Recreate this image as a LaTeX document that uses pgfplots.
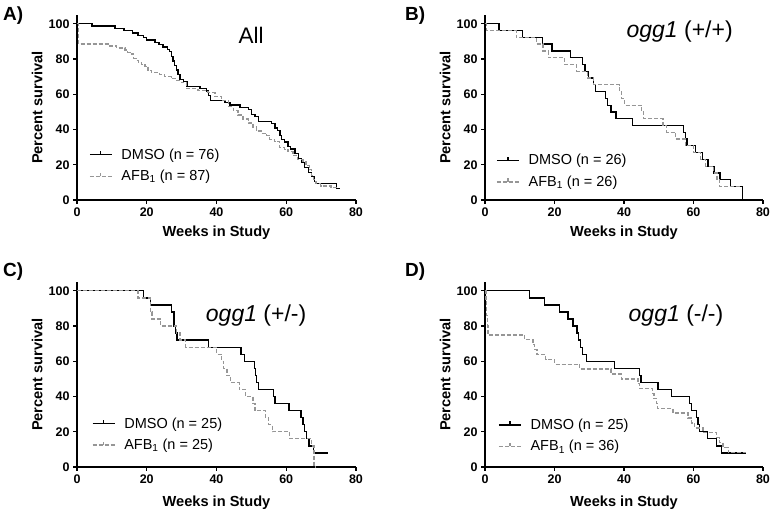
\documentclass[border=0pt]{standalone}
\usepackage{fontspec}
\setmainfont{Liberation Sans}
\usepackage{pgfplots}
\pgfplotsset{compat=1.18}
\definecolor{afbgray}{RGB}{150,150,150}
\pgfplotsset{
 km/.style={
  scale only axis, width=279pt, height=185pt,
  xmin=0, xmax=80, ymin=0, ymax=105,
  axis lines*=left,
  axis line style={line width=1.2pt},
  xtick={0,20,40,60,80}, ytick={0,20,40,60,80,100},
  tick align=outside, major tick length=4pt,
  tick style={line width=1.2pt, black},
  /pgf/number format/assume math mode=true,
  ticklabel style={font=\fontsize{12.5}{14}\selectfont\bfseries},
  xlabel={Weeks in Study}, ylabel={Percent survival},
  label style={font=\fontsize{14.6}{16}\selectfont\bfseries},
  xlabel style={at={(axis description cs:0.5,-0.178)}, anchor=center},
  ylabel style={at={(axis description cs:-0.143,0.5)}, anchor=center},
  clip=false,
  legend cell align=left,
  legend image code/.code={\draw[##1] (0pt,0pt) -- (22pt,0pt); \draw[##1,solid] (11pt,0pt) -- (11pt,3.5pt);},
  legend style={draw=none, fill=none, inner sep=0pt, anchor=west, row sep=5.5pt,
     font=\fontsize{14.5}{16}\selectfont,
     /tikz/every odd column/.append style={column sep=7pt}},
 },
 dmso/.style={black, line width=1.3pt, const plot, mark=none},
 afb/.style={afbgray, line width=1.3pt, dash pattern=on 4pt off 2pt, const plot, mark=none},
}
\begin{document}
\begin{tikzpicture}
\path[use as bounding box] (0pt,0pt) rectangle (771pt,513pt);
% Panel A
\begin{axis}[km, at={(77pt,313pt)}, anchor=south west,
  legend style={at={(axis description cs:0.043,0.186)}}]
\addplot[dmso] coordinates {(0,100)(4.3,98.7)(10.9,97.4)(13.5,96.1)(16,94.7)(17.5,93.4)(19,92.1)(20,90.8)(22.4,89.5)(23.5,88.2)(24.7,86.8)(26,85.5)(26.5,84.2)(27,81.6)(27.5,78.9)(28,76.3)(28.5,73.7)(29,71.1)(29.5,68.4)(30.5,67.1)(31.5,64.5)(35.3,63.2)(37.2,61.8)(37.7,59.2)(38.2,56.6)(42.4,55.3)(43.9,53.9)(46.7,52.6)(49.1,51.3)(50,48.7)(51,47.4)(52,44.7)(55.8,43.4)(56.8,40.8)(57.5,39.5)(58.2,36.8)(58.7,34.2)(59.5,32.9)(60.5,30.3)(61.3,28.9)(62.5,26.3)(63.5,23.7)(64.4,21.1)(65.2,18.4)(66.3,15.8)(67.2,13.2)(68.2,10.5)(68.7,9.2)(74.5,6.6)(75.3,6.6)};
\addlegendentry{DMSO (n = 76)}
\addplot[afb] coordinates {(0,100)(0.5,88.5)(9,87.4)(11.4,86.2)(13.8,85.1)(14.5,83.9)(15.2,82.8)(16.2,80.5)(17,79.3)(17.6,78.2)(18.5,77)(19.5,75.9)(20.4,73.6)(21.3,72.4)(23.7,71.3)(25.1,70.1)(27,69)(28.5,67.8)(29.9,66.7)(31.4,63.2)(34.7,62.1)(37.6,60.9)(39.6,58.6)(41.5,56.3)(43.4,52.9)(44.8,50.6)(46.2,48.3)(47.6,46)(49.1,43.7)(50.5,41.4)(51.4,39.1)(52.9,37.9)(54.3,36.8)(55.2,34.5)(56.7,33.3)(58.1,29.9)(59.5,28.7)(60.5,27.6)(61.9,25.3)(63.3,23)(64.8,21.8)(65.7,19.5)(66.6,17.2)(67.3,13.8)(67.8,11.5)(68.5,9.2)(69.9,8)(72.8,6.9)(75,6.9)};
\addlegendentry{AFB\textsubscript{1} (n = 87)}
\node[anchor=base, font=\fontsize{22.5}{24}\selectfont] at (axis description cs:0.624,0.845) {All};
\end{axis}
% Panel B
\begin{axis}[km, at={(485pt,313pt)}, anchor=south west, width=278pt,
  legend style={at={(axis description cs:0.04,0.156)}}]
\addplot[dmso] coordinates {(0,100)(4,96.2)(10.8,92.3)(16.5,88.5)(19.3,84.6)(24.6,80.8)(28.1,76.9)(28.8,73.1)(29.8,69.2)(31.3,65.4)(31.8,61.5)(34.6,57.7)(35.2,53.8)(36.3,50)(37.7,46.2)(42.4,42.3)(57.2,38.5)(57.6,34.6)(58.1,30.8)(60.5,26.9)(62.6,23.1)(64.2,19.2)(65.9,15.4)(67.6,11.5)(70.7,7.7)(74.1,0)};
\addlegendentry{DMSO (n = 26)}
\addplot[afb] coordinates {(0,100)(0.4,96.2)(9,92.3)(14.8,88.5)(16.7,84.6)(18.2,80.8)(22.9,76.9)(26.3,73.1)(29.4,69.2)(31.2,65.4)(38.8,61.5)(39.3,57.7)(40.2,53.8)(45,50)(45.6,46.2)(51.2,42.3)(52.3,38.5)(54.8,34.6)(57.6,30.8)(60,26.9)(62,23.1)(63.4,19.2)(65.8,15.4)(66.8,11.5)(67.5,7.7)(73.8,7.7)};
\addlegendentry{AFB\textsubscript{1} (n = 26)}
\node[anchor=base, font=\fontsize{23}{25}\selectfont] at (axis description cs:0.70,0.88) {\textit{ogg1} (+/+)};
\end{axis}
% Panel C
\begin{axis}[km, at={(77pt,46pt)}, anchor=south west,
  xlabel style={at={(axis description cs:0.5,-0.193)}},
  legend style={at={(axis description cs:0.053,0.177)}}]
\addplot[dmso] coordinates {(0,100)(19,96)(21,92)(27.1,88)(27.8,80)(28.3,76)(28.7,72)(37.8,68)(47,64)(48,60)(50.8,56)(51.2,52)(51.5,48)(52,44)(56.3,40)(56.8,36)(60.8,32)(64.2,28)(64.8,24)(65.3,20)(65.8,16)(66.5,12)(67.8,8)(72,8)};
\addlegendentry{DMSO (n = 25)}
\addplot[afb] coordinates {(0,100)(17.5,96)(21,88)(21.5,84)(24,80)(28.5,76)(29.5,72)(31.2,68)(40,64)(41.5,60)(42,56)(43,52)(44,48)(46.5,44)(48.3,40)(50.5,36)(51,32)(54,28)(55,24)(56,20)(61,16)(67.3,12)(68,0)(68.3,0)};
\addlegendentry{AFB\textsubscript{1} (n = 25)}
\node[anchor=base, font=\fontsize{23}{25}\selectfont] at (axis description cs:0.642,0.787) {\textit{ogg1} (+/-)};
\end{axis}
% Panel D
\begin{axis}[km, at={(485pt,46pt)}, anchor=south west, width=278pt,
  xlabel style={at={(axis description cs:0.5,-0.193)}},
  legend style={at={(axis description cs:0.047,0.169)}}]
\addplot[dmso] coordinates {(0,100)(12.9,96)(17.2,92)(21.5,88)(23.9,84)(25.3,80)(26.5,76)(27,72)(27.5,68)(28,64)(29.2,60)(37.3,56)(44.5,52)(44.9,48)(49.8,44)(53.6,40)(58.9,36)(59.4,32)(60.8,28)(61.3,24)(61.8,20)(64,16)(66.6,12)(68,8)(75.2,8)};
\addlegendentry{DMSO (n = 25)}
\addplot[afb] coordinates {(0,100)(0.3,94)(0.5,86)(0.7,80)(0.9,75)(11.4,72.2)(13.8,69.4)(14.3,66.7)(15,63.9)(17.5,61.1)(20,58.3)(27.2,55.6)(36.3,52.8)(39.2,50)(44,47.2)(44.5,44.4)(48.3,41.7)(48.6,38.9)(49.3,36.1)(49.6,33.3)(54.1,30.6)(58.4,27.8)(59.5,25)(60.3,22.2)(62.7,19.4)(66.6,16.7)(67.5,13.9)(68.5,11.1)(70,8.3)(75.2,8.3)};
\addlegendentry{AFB\textsubscript{1} (n = 36)}
\node[anchor=base, font=\fontsize{23}{25}\selectfont] at (axis description cs:0.687,0.787) {\textit{ogg1} (-/-)};
\end{axis}
% Panel letters
\node[anchor=base west, font=\fontsize{19}{21}\selectfont\bfseries, inner sep=0pt] at (3pt,492pt) {A)};
\node[anchor=base west, font=\fontsize{19}{21}\selectfont\bfseries, inner sep=0pt] at (405pt,492pt) {B)};
\node[anchor=base west, font=\fontsize{19}{21}\selectfont\bfseries, inner sep=0pt] at (3pt,236pt) {C)};
\node[anchor=base west, font=\fontsize{19}{21}\selectfont\bfseries, inner sep=0pt] at (405pt,236pt) {D)};
\end{tikzpicture}
\end{document}
